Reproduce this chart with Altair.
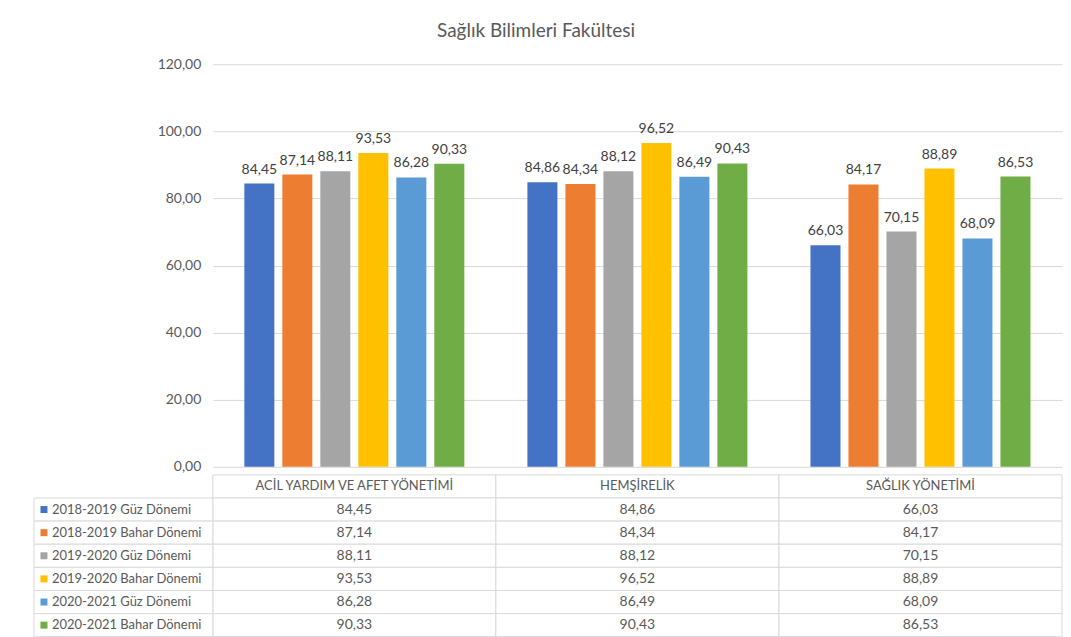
import altair as alt
import pandas as pd

categories = ["ACİL YARDIM VE AFET YÖNETİMİ", "HEMŞİRELİK", "SAĞLIK YÖNETİMİ"]
series = [
    "2018-2019 Güz Dönemi",
    "2018-2019 Bahar Dönemi",
    "2019-2020 Güz Dönemi",
    "2019-2020 Bahar Dönemi",
    "2020-2021 Güz Dönemi",
    "2020-2021 Bahar Dönemi",
]
v_2018_2019_guz = [84.45, 84.86, 66.03]
v_2018_2019_bahar = [87.14, 84.34, 84.17]
v_2019_2020_guz = [88.11, 88.12, 70.15]
v_2019_2020_bahar = [93.53, 96.52, 88.89]
v_2020_2021_guz = [86.28, 86.49, 68.09]
v_2020_2021_bahar = [90.33, 90.43, 86.53]
colors = ["#4472C4", "#ED7D31", "#A5A5A5", "#FFC000", "#5B9BD5", "#70AD47"]
y_ticks = [0, 20, 40, 60, 80, 100, 120]
title_text = "Sağlık Bilimleri Fakültesi"

all_values = [v_2018_2019_guz, v_2018_2019_bahar, v_2019_2020_guz,
              v_2019_2020_bahar, v_2020_2021_guz, v_2020_2021_bahar]

rows = []
for s, vals in zip(series, all_values):
    for c, v in zip(categories, vals):
        rows.append({"category": c, "series": s, "value": v,
                     "label": f"{v:.2f}".replace(".", ",")})
df = pd.DataFrame(rows)

FONT = "Lato"
W = 850
H = 403
TH = 162

# ---------- bar chart ----------
x = alt.X("category:N", sort=categories,
          scale=alt.Scale(domain=categories, paddingInner=0, paddingOuter=0), axis=None)
xo = alt.XOffset("series:N", sort=series,
                 scale=alt.Scale(domain=series, paddingInner=0.21, paddingOuter=0.83))
y = alt.Y("value:Q", scale=alt.Scale(domain=[0, 120]),
          axis=alt.Axis(values=y_ticks, title=None, domain=False, ticks=False,
                        labelExpr="replace(format(datum.value, '.2f'), '.', ',')",
                        gridColor="#D9D9D9", labelColor="#595959", labelFontSize=14,
                        labelFont=FONT, labelPadding=12))
color = alt.Color("series:N", scale=alt.Scale(domain=series, range=colors), legend=None)

base = alt.Chart(df)
bars = base.mark_bar().encode(x=x, xOffset=xo, y=y, color=color)
labels = base.mark_text(dy=-7, baseline="bottom", fontSize=14, color="#404040",
                        font=FONT).encode(x=x, xOffset=xo, y=y, text="label:N")
barchart = (bars + labels).properties(width=W, height=H)

# ---------- data table ----------
row_domain = ["__hdr__"] + series
ty = alt.Y("row:N", scale=alt.Scale(domain=row_domain, paddingInner=0, paddingOuter=0), axis=None)
tx = alt.X("category:N", scale=alt.Scale(domain=categories, paddingInner=0, paddingOuter=0), axis=None)

cells = df.assign(row=df["series"])
hdr = pd.DataFrame({"category": categories, "row": ["__hdr__"] * len(categories)})
leg = pd.DataFrame({"series": series, "row": series})

cell_rect = alt.Chart(cells).mark_rect(fill="white", stroke="#D9D9D9", strokeWidth=1).encode(x=tx, y=ty)
hdr_rect = alt.Chart(hdr).mark_rect(fill="white", stroke="#D9D9D9", strokeWidth=1).encode(x=tx, y=ty)
leg_rect = alt.Chart(leg).mark_rect(fill="white", stroke="#D9D9D9", strokeWidth=1).encode(
    x=alt.value(-179), x2=alt.value(0), y=ty)
cell_text = alt.Chart(cells).mark_text(fontSize=14, color="#595959", font=FONT).encode(
    x=tx, y=ty, text="label:N")
hdr_text = alt.Chart(hdr).mark_text(fontSize=13, color="#595959", font=FONT).encode(
    x=tx, y=ty, text="category:N")
leg_sq = alt.Chart(leg).mark_square(size=49, opacity=1).encode(
    x=alt.value(-169), y=ty,
    color=alt.Color("series:N", scale=alt.Scale(domain=series, range=colors), legend=None))
leg_text = alt.Chart(leg).mark_text(align="left", fontSize=13, color="#595959", font=FONT).encode(
    x=alt.value(-161), y=ty, text="series:N")

table = alt.layer(hdr_rect, cell_rect, leg_rect, cell_text, hdr_text, leg_sq, leg_text).properties(
    width=W, height=TH)

chart = alt.vconcat(barchart, table, spacing=0).resolve_scale(
    x="independent", y="independent"
).properties(
    title=alt.Title(title_text, fontSize=19, font=FONT, color="#595959", fontWeight="normal",
                    anchor="middle", offset=16, dx=-12),
    padding={"left": 25, "top": 14, "right": 0, "bottom": 0},
    background="white",
).configure_view(stroke=None)

chart.save("out.html", embed_options={"renderer": "svg", "actions": False})
